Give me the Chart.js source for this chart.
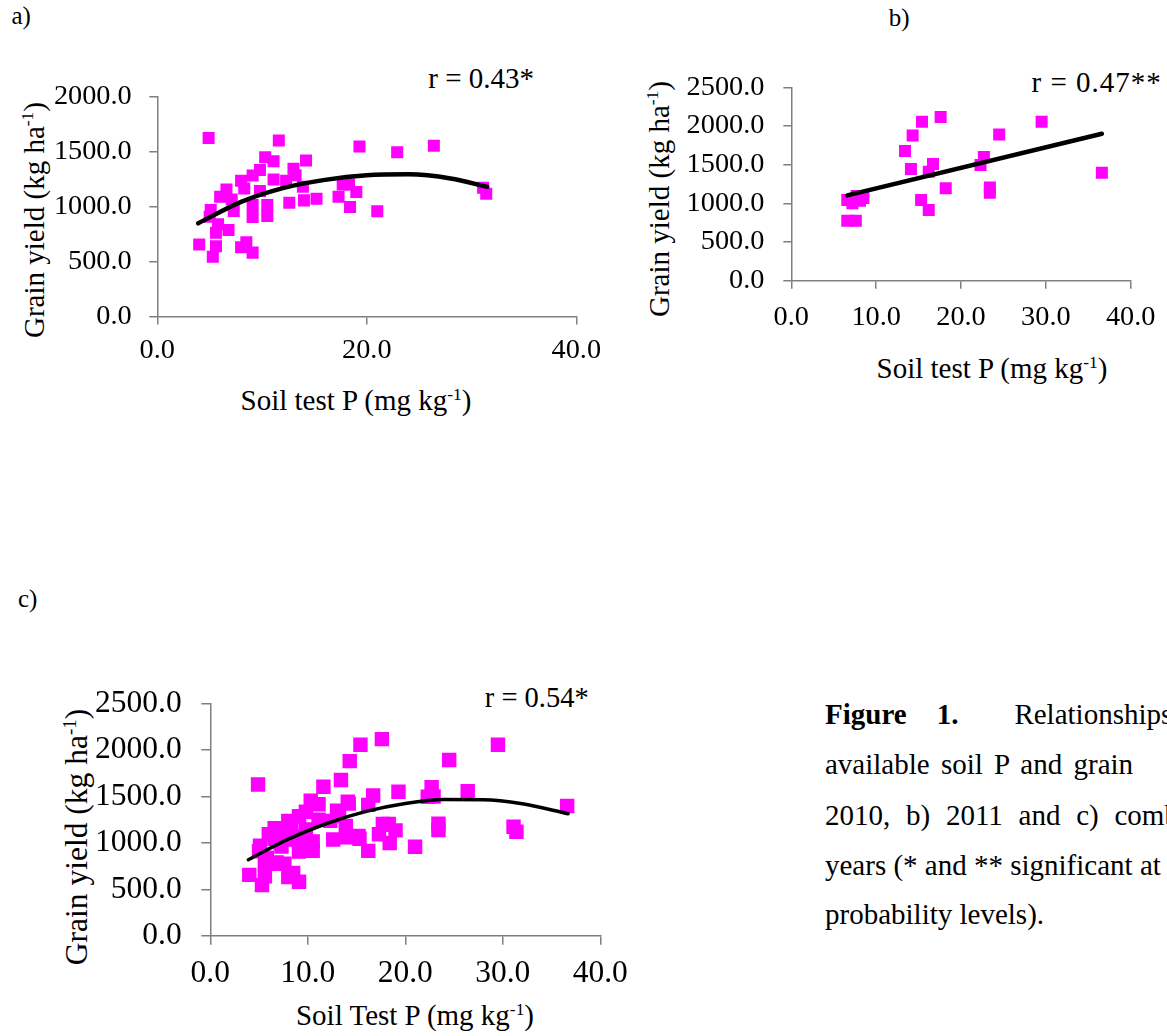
<!doctype html>
<html lang="en">
  <head>
    <meta charset="utf-8">
    <title>Soil test P vs grain yield</title>
    <style>
      * {
        margin: 0;
        padding: 0;
      }
      body {
        width: 1167px;
        height: 1036px;
        background: #fff;
        position: relative;
        overflow: hidden;
        font-family: 'Liberation Serif', 'Times New Roman', serif;
        color: #000;
      }
      canvas {
        position: absolute;
      }
      .t {
        position: absolute;
        line-height: 1;
        white-space: nowrap;
      }
      .t sup {
        font-size: 0.6em;
        vertical-align: 0.6em;
        line-height: 0;
      }
      .ytitle {
        transform: translate(-50%, -50%) rotate(-90deg);
      }
      .xtitle {
        transform: translateX(-50%);
      }
    </style>
  </head>
  <body>
    <div class="t" style="left:11.5px; top:3px; font-size:25px;">a)</div>
    <div class="t" style="left:888.7px; top:4.6px; font-size:25px;">b)</div>
    <div class="t" style="left:18px; top:586px; font-size:25px;">c)</div>

    <div class="t" style="left:428.3px; top:64px; font-size:29px;">r = 0.43*</div>
    <div class="t" style="left:1031.6px; top:67.7px; font-size:29px; letter-spacing:1px;">r = 0.47**</div>
    <div class="t" style="left:484.8px; top:684.4px; font-size:28.5px;">r = 0.54*</div>

    <div class="t ytitle" style="left:34px; top:220px; font-size:29px;">Grain yield (kg ha<sup>-1</sup>)</div>
    <div class="t ytitle" style="left:658.6px; top:199px; font-size:29px;">Grain yield (kg ha<sup>-1</sup>)</div>
    <div class="t ytitle" style="left:76.5px; top:837px; font-size:31.5px;">Grain yield (kg ha<sup>-1</sup>)</div>

    <div class="t xtitle" style="left:356px; top:385.7px; font-size:29px;">Soil test P (mg kg<sup>-1</sup>)</div>
    <div class="t xtitle" style="left:992px; top:353.7px; font-size:29px;">Soil test P (mg kg<sup>-1</sup>)</div>
    <div class="t xtitle" style="left:415px; top:1000.7px; font-size:29px;">Soil Test P (mg kg<sup>-1</sup>)</div>

    <div class="t" style="left:825px; top:700.2px; font-size:29px;"><b>Figure</b><b style="margin-left:30px">1.</b><span style="margin-left:56px">Relationships between</span></div>
    <div class="t" style="left:825px; top:750.2px; font-size:29px; word-spacing:4px;">available soil P and grain<span style="margin-left:70px">yield in a)</span></div>
    <div class="t" style="left:825px; top:800.7px; font-size:29px; word-spacing:8.5px;">2010, b) 2011 and c) combined over both</div>
    <div class="t" style="left:825px; top:851.2px; font-size:29px;">years (* and ** significant at 5% and 1%</div>
    <div class="t" style="left:825px; top:899.7px; font-size:29px;">probability levels).</div>

    <canvas id="chartA" width="640" height="340" style="left:0px; top:60px;"></canvas>
    <canvas id="chartB" width="527" height="320" style="left:640px; top:40px;"></canvas>
    <canvas id="chartC" width="660" height="350" style="left:0px; top:660px;"></canvas>

    <script src="https://cdn.jsdelivr.net/npm/chart.js/dist/chart.umd.min.js"></script>
    <script>
    // data
    // a) 2010
    const soilP2010 = [4.9, 11.6, 19.3, 22.9, 26.4, 10.3, 11.1, 14.2, 13.0, 13.2, 9.8, 9.1, 11.1, 12.3, 8.0, 8.3,
      6.6, 9.8, 13.9, 17.7, 18.3, 19.0, 17.3, 15.2, 14.0, 12.6, 6.0, 7.1, 7.3, 5.1, 9.1, 10.5,
      9.1, 10.5, 18.4, 21.0, 31.1, 31.4, 5.0, 5.8, 6.8, 5.6, 4.0, 5.6, 8.0, 8.5, 9.1, 5.3];
    const yield2010 = [1627, 1603, 1549, 1497, 1555, 1452, 1415, 1421, 1346, 1288, 1334, 1285, 1249, 1236, 1236, 1167,
      1158, 1143, 1182, 1203, 1203, 1134, 1091, 1073, 1058, 1036, 1091, 1067, 961, 970, 1015, 1015,
      906, 915, 997, 958, 1173, 1118, 909, 840, 788, 764, 655, 640, 631, 676, 582, 545];
    const fit2010X = [3.9, 8, 12, 16, 20, 24, 28, 31.5];
    const fit2010Y = [849, 1045, 1170, 1245, 1287, 1295, 1258, 1182];

    // b) 2011
    const soilP2011 = [6.6, 7.6, 6.6, 7.2, 8.1, 8.5, 7.7, 13.4, 14.3, 15.4, 17.6, 14.1, 16.2, 16.7, 15.3, 16.2,
      18.2, 22.3, 22.7, 23.4, 23.4, 24.5, 29.5, 36.6];
    const yield2011 = [775, 775, 1043, 1000, 1034, 1068, 1094, 1676, 1878, 2054, 2115, 1443, 1408, 1508, 1043, 913,
      1194, 1495, 1598, 1206, 1137, 1891, 2054, 1395];
    const fit2011X = [6.6, 36.6];
    const fit2011Y = [1103, 1899];

    // c) both years
    const soilPAll = soilP2010.concat(soilP2011);
    const yieldAll = yield2010.concat(yield2011);
    const fitAllX = [3.9, 8, 12, 16, 20, 24, 28, 32, 36.7];
    const fitAllY = [818, 1039, 1210, 1338, 1423, 1465, 1464, 1420, 1313];

    const xTicksA = [0, 20, 40];
    const xTicksBC = [0, 10, 20, 30, 40];
    const yMaxA = 2000;
    const yMaxBC = 2500;

    const AXIS = '#7f7f7f';
    const FONT = "'Liberation Serif', 'Times New Roman', serif";

    function toPts(xs, ys) {
      return xs.map((x, i) => ({ x: x, y: ys[i] }));
    }

    function makeChart(id, g) {
      return new Chart(document.getElementById(id), {
        type: 'scatter',
        data: {
          datasets: [
            {
              type: 'line',
              data: toPts(g.fitX, g.fitY),
              borderColor: '#000',
              borderWidth: g.lineW,
              borderCapStyle: 'round',
              pointRadius: 0,
              fill: false,
              cubicInterpolationMode: 'monotone',
              order: 0
            },
            {
              data: toPts(g.xs, g.ys),
              backgroundColor: '#ff00ff',
              borderWidth: 0,
              pointStyle: 'rect',
              pointRadius: g.ptR,
              pointHoverRadius: g.ptR,
              order: 1
            }
          ]
        },
        options: {
          responsive: false,
          animation: false,
          devicePixelRatio: 1,
          layout: { padding: g.pad },
          plugins: { legend: { display: false }, tooltip: { enabled: false } },
          scales: {
            x: {
              type: 'linear',
              min: 0,
              max: 40,
              afterFit: s => { s.height = g.xh; },
              afterBuildTicks: s => { s.ticks = g.xTicks.map(v => ({ value: v })); },
              border: { display: true, color: AXIS, width: 1.5 },
              grid: { drawOnChartArea: false, drawTicks: true, tickLength: g.tl, color: AXIS, lineWidth: 1.5 },
              ticks: {
                autoSkip: false, maxRotation: 0, padding: g.xPad, color: '#000',
                font: { family: FONT, size: g.fs },
                callback: v => v.toFixed(1)
              }
            },
            y: {
              type: 'linear',
              min: 0,
              max: g.yMax,
              afterFit: s => { s.width = g.yw; },
              border: { display: true, color: AXIS, width: 1.5 },
              grid: { drawOnChartArea: false, drawTicks: true, tickLength: g.tl, color: AXIS, lineWidth: 1.5 },
              ticks: {
                stepSize: 500, padding: g.yPad, color: '#000',
                font: { family: FONT, size: g.fs },
                callback: v => v.toFixed(1)
              }
            }
          }
        }
      });
    }

    makeChart('chartA', {
      xs: soilP2010, ys: yield2010, fitX: fit2010X, fitY: fit2010Y,
      xTicks: xTicksA, yMax: yMaxA,
      pad: { top: 37, right: 63.7, bottom: 13.5, left: 0 },
      yw: 157.3, xh: 70, tl: 8, xPad: 9, yPad: 17.6, fs: 28.3, ptR: 8.5, lineW: 4.5
    });

    makeChart('chartB', {
      xs: soilP2011, ys: yield2011, fitX: fit2011X, fitY: fit2011Y,
      xTicks: xTicksBC, yMax: yMaxBC,
      pad: { top: 47.3, right: 36.3, bottom: 13.3, left: 0 },
      yw: 151.3, xh: 66, tl: 8, xPad: 11.5, yPad: 18.9, fs: 28.3, ptR: 8.5, lineW: 4.5
    });

    makeChart('chartC', {
      xs: soilPAll, ys: yieldAll, fitX: fitAllX, fitY: fitAllY,
      xTicks: xTicksBC, yMax: yMaxBC,
      pad: { top: 43.3, right: 59.7, bottom: 10.2, left: 0 },
      yw: 210.3, xh: 64, tl: 9, xPad: 10.4, yPad: 19.6, fs: 31.5, ptR: 10.2, lineW: 3.5
    });
    </script>
  </body>
</html>
